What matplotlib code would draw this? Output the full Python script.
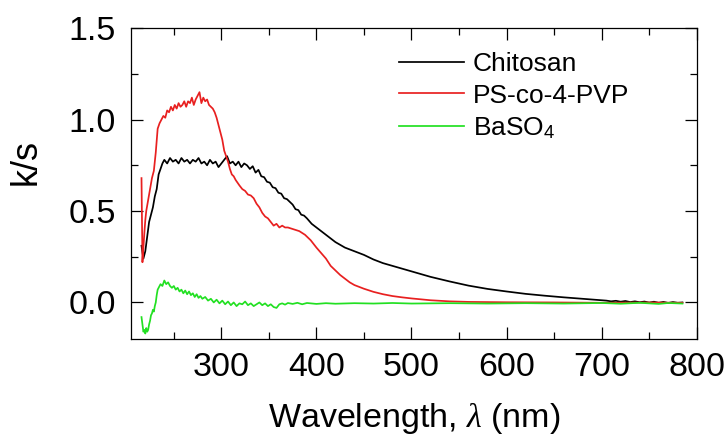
import numpy as np
import matplotlib
matplotlib.use("Agg")
import matplotlib.pyplot as plt
from matplotlib.ticker import MultipleLocator, FormatStrFormatter

plt.rcParams["font.family"] = ["Liberation Sans", "DejaVu Sans"]
plt.rcParams["mathtext.fontset"] = "custom"
plt.rcParams["mathtext.rm"] = "Liberation Sans"
plt.rcParams["mathtext.it"] = "Liberation Serif:italic"

# Chitosan
wl_chi = [216, 218, 220, 222, 224, 226, 228, 230, 232, 234, 236, 238, 240, 243, 246,
          249, 252, 255, 258, 261, 264, 267, 270, 273, 276, 279, 282, 285, 288, 291,
          294, 297, 300, 303, 306, 309, 312, 315, 318, 321, 324, 327, 330, 333, 336,
          339, 342, 345, 348, 351, 354, 357, 360, 363, 366, 369, 372, 375, 378, 381,
          384, 387, 390, 395, 400, 405, 410, 415, 420, 430, 440, 450, 460, 470, 480,
          490, 500, 520, 540, 560, 580, 600, 620, 640, 660, 680, 700, 705, 710, 715,
          720, 725, 730, 735, 740, 745, 750, 755, 760, 765, 770, 775, 780, 785]
ks_chi = [0.31, 0.24, 0.28, 0.36, 0.44, 0.48, 0.52, 0.58, 0.62, 0.70, 0.73, 0.76, 0.78, 0.76, 0.79,
          0.77, 0.78, 0.76, 0.79, 0.77, 0.78, 0.76, 0.78, 0.77, 0.79, 0.76, 0.77, 0.75, 0.78, 0.76,
          0.77, 0.74, 0.76, 0.78, 0.80, 0.76, 0.77, 0.75, 0.77, 0.74, 0.76, 0.75, 0.73, 0.745, 0.71,
          0.725, 0.69, 0.685, 0.66, 0.655, 0.63, 0.625, 0.60, 0.595, 0.57, 0.565, 0.55, 0.535, 0.51, 0.505,
          0.48, 0.475, 0.46, 0.43, 0.41, 0.39, 0.37, 0.35, 0.33, 0.30, 0.28, 0.26, 0.235, 0.215, 0.20,
          0.185, 0.17, 0.14, 0.115, 0.092, 0.074, 0.06, 0.047, 0.037, 0.028, 0.02, 0.012, 0.01, 0.006, 0.009,
          0.004, 0.008, 0.002, 0.006, 0.001, 0.005, -0.001, 0.004, -0.002, 0.003, -0.003, 0.002, -0.002, 0.0]

# PS-co-4-PVP
wl_ps = [216, 217, 218, 219, 220, 221, 223, 225, 227, 229, 231, 233, 235, 237, 239,
         241, 243, 245, 247, 249, 251, 253, 255, 257, 259, 261, 263, 265, 267, 269,
         271, 273, 275, 277, 279, 281, 283, 285, 287, 289, 291, 293, 295, 297, 299,
         301, 303, 305, 307, 309, 311, 313, 315, 317, 319, 322, 325, 328, 331, 334,
         337, 340, 343, 346, 349, 352, 355, 358, 361, 364, 367, 370, 373, 376, 379,
         382, 385, 388, 391, 394, 397, 400, 405, 410, 415, 420, 425, 430, 435, 440,
         450, 460, 470, 480, 490, 500, 520, 540, 560, 600, 650, 700, 750, 785]
ks_ps = [0.68, 0.22, 0.30, 0.38, 0.45, 0.50, 0.56, 0.62, 0.68, 0.72, 0.82, 0.95, 0.98, 1.00, 1.02,
         1.01, 1.05, 1.04, 1.07, 1.05, 1.08, 1.06, 1.09, 1.07, 1.08, 1.10, 1.07, 1.10, 1.09, 1.12,
         1.08, 1.11, 1.13, 1.15, 1.09, 1.12, 1.10, 1.11, 1.08, 1.07, 1.06, 1.04, 1.01, 0.97, 0.93,
         0.89, 0.83, 0.80, 0.77, 0.73, 0.70, 0.69, 0.67, 0.655, 0.64, 0.62, 0.61, 0.59, 0.585, 0.57,
         0.54, 0.52, 0.49, 0.47, 0.46, 0.44, 0.42, 0.43, 0.41, 0.42, 0.41, 0.41, 0.405, 0.40, 0.395,
         0.39, 0.38, 0.37, 0.355, 0.34, 0.32, 0.30, 0.27, 0.24, 0.20, 0.175, 0.15, 0.13, 0.11, 0.095,
         0.075, 0.058, 0.045, 0.035, 0.028, 0.022, 0.012, 0.006, 0.003, 0.001, 0.0, -0.002, 0.0, -0.002]

# BaSO4 reference
wl_ba = [216, 217, 218, 219, 220, 221, 222, 223, 224, 225, 226, 227, 228, 229, 230,
         231, 232, 233, 234, 236, 238, 240, 242, 244, 246, 248, 250, 252, 254, 256,
         258, 260, 262, 264, 266, 268, 270, 272, 274, 276, 278, 280, 283, 286, 289,
         292, 295, 298, 301, 304, 307, 310, 313, 316, 319, 322, 325, 328, 331, 334,
         337, 340, 343, 346, 349, 352, 355, 358, 361, 364, 367, 370, 375, 380, 385,
         390, 400, 410, 420, 440, 460, 480, 500, 540, 580, 620, 660, 700, 720, 740,
         760, 770, 785]
ks_ba = [-0.08, -0.12, -0.16, -0.15, -0.17, -0.14, -0.16, -0.15, -0.12, -0.10, -0.07, -0.06, -0.04, -0.05, -0.02,
         0.0, 0.04, 0.07, 0.08, 0.10, 0.09, 0.12, 0.10, 0.11, 0.09, 0.08, 0.09, 0.07, 0.08, 0.06,
         0.07, 0.05, 0.065, 0.045, 0.06, 0.04, 0.05, 0.03, 0.045, 0.025, 0.035, 0.02, 0.03, 0.01, 0.02,
         0.0, 0.015, -0.005, 0.01, -0.01, 0.005, -0.015, 0.0, -0.02, -0.005, -0.01, 0.005, -0.015, -0.005, -0.02,
         -0.01, 0.0, -0.015, -0.005, -0.02, -0.01, -0.025, -0.03, -0.01, -0.005, -0.012, -0.003, -0.008, -0.002, -0.01,
         -0.003, -0.008, -0.004, -0.007, -0.004, -0.006, -0.003, -0.006, -0.004, -0.006, -0.004, -0.006, -0.003, -0.007, -0.002,
         -0.008, -0.003, -0.006]

fig = plt.figure(figsize=(7.28, 4.40), dpi=100)
ax = fig.add_axes([0.180, 0.2295, 0.777, 0.7065])

ax.plot(wl_chi, ks_chi, color="black", lw=1.25, label="Chitosan")
ax.plot(wl_ps, ks_ps, color="#e82020", lw=1.25, label="PS-co-4-PVP")
ax.plot(wl_ba, ks_ba, color="#22e022", lw=1.25, label="BaSO$_4$")

ax.set_xlim(205, 800)
ax.set_ylim(-0.2, 1.5)
ax.xaxis.set_major_locator(MultipleLocator(100))
ax.xaxis.set_minor_locator(MultipleLocator(50))
ax.yaxis.set_major_locator(MultipleLocator(0.5))
ax.yaxis.set_minor_locator(MultipleLocator(0.25))
ax.yaxis.set_major_formatter(FormatStrFormatter("%.1f"))
ax.set_xticks([300, 400, 500, 600, 700, 800])

ax.tick_params(which="both", direction="in", top=True, right=True, width=0.9)
ax.tick_params(which="major", length=8.5, labelsize=24.5)
ax.tick_params(axis="y", which="major", pad=11)
ax.tick_params(axis="x", which="major", pad=9)
ax.tick_params(which="minor", length=5)
for s in ax.spines.values():
    s.set_linewidth(0.9)

ax.set_xlabel(r"Wavelength, $\lambda$ (nm)", fontsize=24.5)
ax.set_ylabel("k/s", fontsize=26)
ax.yaxis.set_label_coords(-0.155, 0.57)
ax.xaxis.set_label_coords(0.5, -0.198)

ax.legend(loc="upper left", bbox_to_anchor=(0.4735, 0.924), frameon=False,
          fontsize=19, handlelength=2.45, handletextpad=0.35, labelspacing=0.3,
          borderpad=0, borderaxespad=0)

fig.savefig("out.png", dpi=100)
